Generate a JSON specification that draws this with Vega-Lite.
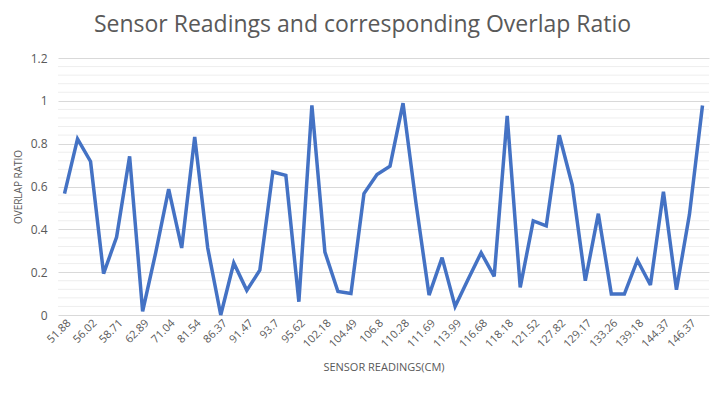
{
  "$schema": "https://vega.github.io/schema/vega-lite/v6.json",
  "width": 651,
  "height": 257,
  "autosize": {"type": "none"},
  "padding": {"left": 58, "top": 58, "right": 13, "bottom": 78},
  "background": "white",
  "title": {
    "text": "Sensor Readings and corresponding Overlap Ratio",
    "fontSize": 23,
    "font": "Open Sans",
    "fontWeight": "normal",
    "color": "#595959",
    "anchor": "middle",
    "dx": -21,
    "offset": 15
  },
  "config": {
    "view": {"stroke": null},
    "font": "Open Sans",
    "axisY": {
      "values": [0, 0.2, 0.4, 0.6, 0.8, 1, 1.2],
      "format": ".1~f",
      "labelFontSize": 12,
      "labelColor": "#595959",
      "labelPadding": 11,
      "ticks": false,
      "domain": false,
      "gridColor": "#d9d9d9",
      "gridWidth": 1,
      "titleFontSize": 10,
      "titleFontWeight": "normal",
      "titleColor": "#595959",
      "titlePadding": 7
    }
  },
  "datasets": {
    "readings": [
      {"reading": "51.88", "ratio": 0.567},
      {"reading": "53.9", "ratio": 0.822},
      {"reading": "56.02", "ratio": 0.717},
      {"reading": "57.3", "ratio": 0.193},
      {"reading": "58.71", "ratio": 0.364},
      {"reading": "60.8", "ratio": 0.741},
      {"reading": "62.89", "ratio": 0.017},
      {"reading": "66.97", "ratio": 0.29},
      {"reading": "71.04", "ratio": 0.588},
      {"reading": "76.3", "ratio": 0.313},
      {"reading": "81.54", "ratio": 0.831},
      {"reading": "84.0", "ratio": 0.313},
      {"reading": "86.37", "ratio": 0.0},
      {"reading": "88.9", "ratio": 0.243},
      {"reading": "91.47", "ratio": 0.115},
      {"reading": "92.6", "ratio": 0.209},
      {"reading": "93.7", "ratio": 0.668},
      {"reading": "94.7", "ratio": 0.652},
      {"reading": "95.62", "ratio": 0.062},
      {"reading": "98.9", "ratio": 0.979},
      {"reading": "102.18", "ratio": 0.294},
      {"reading": "103.3", "ratio": 0.11},
      {"reading": "104.49", "ratio": 0.1},
      {"reading": "105.6", "ratio": 0.567},
      {"reading": "106.8", "ratio": 0.656},
      {"reading": "108.5", "ratio": 0.695},
      {"reading": "110.28", "ratio": 0.989},
      {"reading": "111.0", "ratio": 0.52},
      {"reading": "111.69", "ratio": 0.093},
      {"reading": "112.8", "ratio": 0.268},
      {"reading": "113.99", "ratio": 0.04},
      {"reading": "115.3", "ratio": 0.167},
      {"reading": "116.68", "ratio": 0.291},
      {"reading": "117.4", "ratio": 0.18},
      {"reading": "118.18", "ratio": 0.93},
      {"reading": "119.9", "ratio": 0.129},
      {"reading": "121.52", "ratio": 0.439},
      {"reading": "124.7", "ratio": 0.416},
      {"reading": "127.82", "ratio": 0.839},
      {"reading": "128.5", "ratio": 0.606},
      {"reading": "129.17", "ratio": 0.16},
      {"reading": "131.2", "ratio": 0.473},
      {"reading": "133.26", "ratio": 0.098},
      {"reading": "136.2", "ratio": 0.098},
      {"reading": "139.18", "ratio": 0.256},
      {"reading": "141.8", "ratio": 0.14},
      {"reading": "144.37", "ratio": 0.575},
      {"reading": "145.4", "ratio": 0.118},
      {"reading": "146.37", "ratio": 0.47},
      {"reading": "148.4", "ratio": 0.978}
    ],
    "minorGrid": [
      {"g": 0.04}, {"g": 0.08}, {"g": 0.12}, {"g": 0.16},
      {"g": 0.24}, {"g": 0.28}, {"g": 0.32}, {"g": 0.36},
      {"g": 0.44}, {"g": 0.48}, {"g": 0.52}, {"g": 0.56},
      {"g": 0.64}, {"g": 0.68}, {"g": 0.72}, {"g": 0.76},
      {"g": 0.84}, {"g": 0.88}, {"g": 0.92}, {"g": 0.96},
      {"g": 1.04}, {"g": 1.08}, {"g": 1.12}, {"g": 1.16}
    ]
  },
  "layer": [
    {
      "data": {"name": "minorGrid"},
      "mark": {"type": "rule", "color": "#eeeeee", "strokeWidth": 1},
      "encoding": {
        "y": {"field": "g", "type": "quantitative", "scale": {"domain": [0, 1.2]}, "title": "OVERLAP RATIO"}
      }
    },
    {
      "data": {"name": "readings"},
      "mark": {"type": "line", "color": "#4472C4", "strokeWidth": 3.5, "strokeJoin": "miter", "strokeMiterLimit": 3},
      "encoding": {
        "x": {
          "field": "reading",
          "type": "ordinal",
          "sort": null,
          "scale": {"padding": 0.5},
          "title": "SENSOR READINGS(CM)",
          "axis": {
            "values": ["51.88","56.02","58.71","62.89","71.04","81.54","86.37","91.47","93.7","95.62","102.18","104.49","106.8","110.28","111.69","113.99","116.68","118.18","121.52","127.82","129.17","133.26","139.18","144.37","146.37"],
            "labelAngle": -45,
            "labelFontSize": 11,
            "labelColor": "#595959",
            "labelPadding": 2,
            "ticks": false,
            "domain": false,
            "grid": false,
            "titleFontSize": 11,
            "titleFontWeight": "normal",
            "titleColor": "#595959",
            "titlePadding": 12
          }
        },
        "y": {
          "field": "ratio",
          "type": "quantitative",
          "scale": {"domain": [0, 1.2]},
          "title": "OVERLAP RATIO"
        }
      }
    }
  ]
}
